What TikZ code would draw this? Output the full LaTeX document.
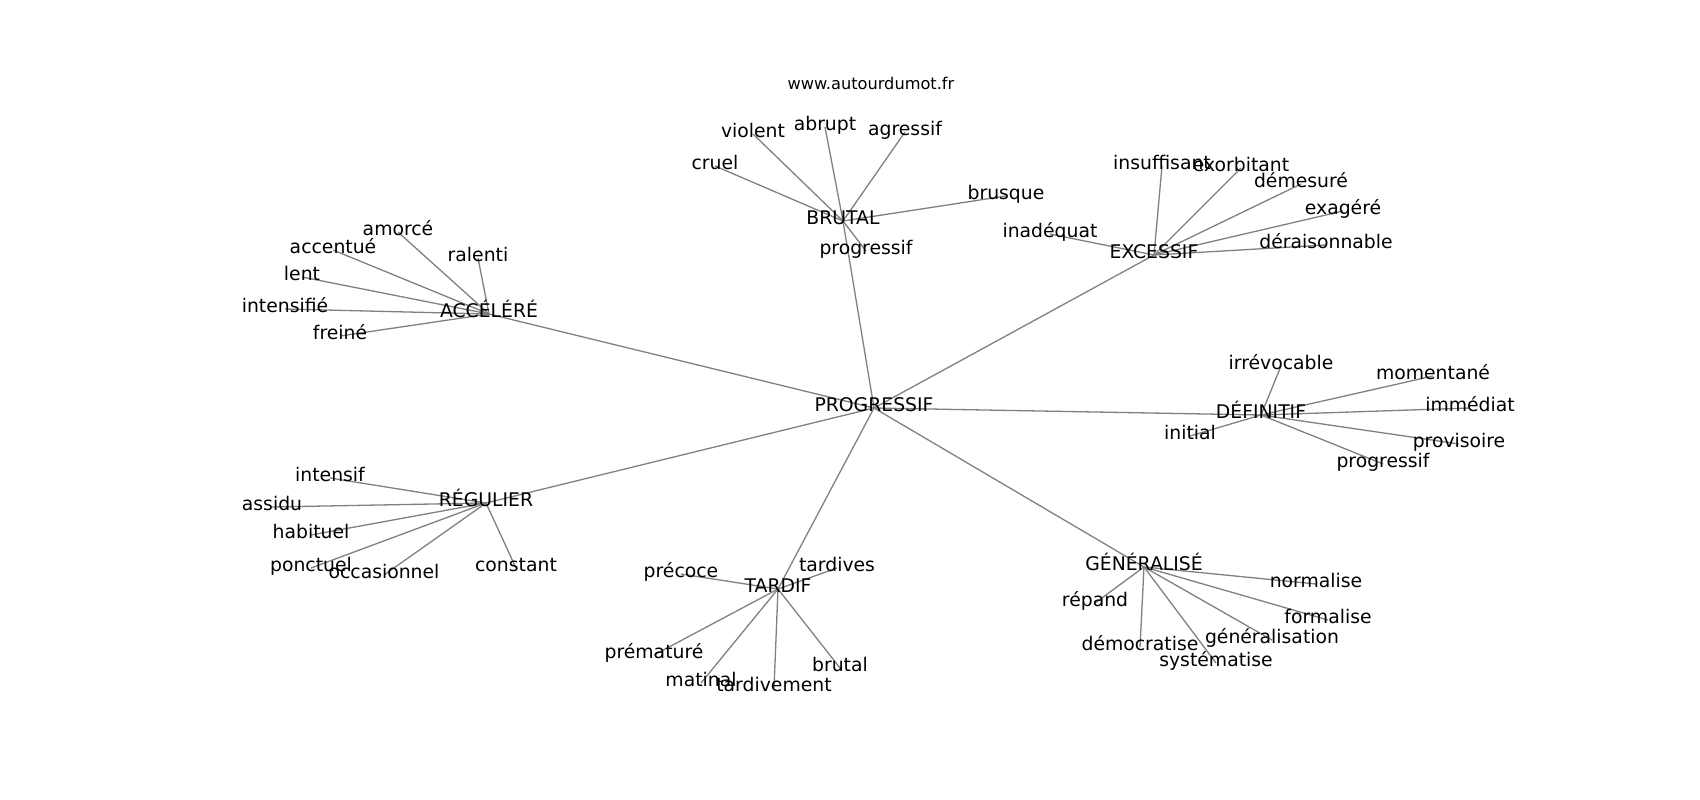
\documentclass[tikz,border=0pt]{standalone}
\usepackage{fontspec}
\setmainfont{DejaVu Sans}
\usetikzlibrary{backgrounds}

\begin{document}
\begin{tikzpicture}[
  x=1pt, y=-1pt,
  word/.style = {inner sep=0pt, yshift=-4pt, text height=0.73em, text depth=0pt, font=\fontsize{18.8}{22}\selectfont},
  link/.style = {draw=black!50, line width=1.3pt}
  ]
  \useasboundingbox (0,0) rectangle (1700,800);

  \node[inner sep=0pt, yshift=-3pt, text height=0.73em, text depth=0pt, font=\fontsize{16.2}{19}\selectfont] (site) at (871,83) {www.autourdumot.fr};

  % hubs
  \node[word] (hprog)   at (874,404)  {PROGRESSIF};
  \node[word] (hbrutal) at (843,217)  {BRUTAL};
  \node[word] (hexces)  at (1154,251) {EXCESSIF};
  \node[word] (haccel)  at (489,310)  {ACCÉLÉRÉ};
  \node[word] (hdefin)  at (1261,411) {DÉFINITIF};
  \node[word] (hregul)  at (486,499)  {RÉGULIER};
  \node[word] (htardif) at (778,585)  {TARDIF};
  \node[word] (hgener)  at (1144,563) {GÉNÉRALISÉ};

  % BRUTAL
  \node[word] (violent)  at (753,130)  {violent};
  \node[word] (abrupt)   at (825,123)  {abrupt};
  \node[word] (agressif) at (905,128)  {agressif};
  \node[word] (cruel)    at (715,162)  {cruel};
  \node[word] (brusque)  at (1006,192) {brusque};
  \node[word] (progb)    at (866,247)  {progressif};

  % EXCESSIF
  \node[word] (insuff)  at (1162,162) {insuffisant};
  \node[word] (exorb)   at (1241,164) {exorbitant};
  \node[word] (demes)   at (1301,180) {démesuré};
  \node[word] (exag)    at (1343,207) {exagéré};
  \node[word] (derais)  at (1326,241) {déraisonnable};
  \node[word] (inadeq)  at (1050,230) {inadéquat};

  % ACCÉLÉRÉ
  \node[word] (amorce)   at (398,228) {amorcé};
  \node[word] (accentue) at (333,246) {accentué};
  \node[word] (ralenti)  at (478,254) {ralenti};
  \node[word] (lent)     at (302,273) {lent};
  \node[word] (intensi)  at (285,305) {intensifié};
  \node[word] (freine)   at (340,332) {freiné};

  % DÉFINITIF
  \node[word] (irrevoc)  at (1281,362) {irrévocable};
  \node[word] (momen)    at (1433,372) {momentané};
  \node[word] (immed)    at (1470,404) {immédiat};
  \node[word] (provis)   at (1459,440) {provisoire};
  \node[word] (progd)    at (1383,460) {progressif};
  \node[word] (initial)  at (1190,432) {initial};

  % RÉGULIER
  \node[word] (intensif) at (330,474) {intensif};
  \node[word] (assidu)   at (272,503) {assidu};
  \node[word] (habituel) at (311,531) {habituel};
  \node[word] (ponctuel) at (311,564) {ponctuel};
  \node[word] (occas)    at (384,571) {occasionnel};
  \node[word] (constant) at (516,564) {constant};

  % TARDIF
  \node[word] (precoce)  at (681,570) {précoce};
  \node[word] (tardives) at (837,564) {tardives};
  \node[word] (premat)   at (654,651) {prématuré};
  \node[word] (matinal)  at (701,679) {matinal};
  \node[word] (tardiv)   at (774,684) {tardivement};
  \node[word] (brutalt)  at (840,664) {brutal};

  % GÉNÉRALISÉ
  \node[word] (repand)   at (1095,599) {répand};
  \node[word] (normal)   at (1316,580) {normalise};
  \node[word] (formal)   at (1328,616) {formalise};
  \node[word] (general)  at (1272,636) {généralisation};
  \node[word] (democ)    at (1140,643) {démocratise};
  \node[word] (system)   at (1216,659) {systématise};

  \begin{scope}[on background layer]
    \foreach \h in {hbrutal,hexces,haccel,hdefin,hregul,htardif,hgener}
      \draw[link] (hprog.center) -- (\h.center);
    \foreach \w in {violent,abrupt,agressif,cruel,brusque,progb}
      \draw[link] (hbrutal.center) -- (\w.center);
    \foreach \w in {insuff,exorb,demes,exag,derais,inadeq}
      \draw[link] (hexces.center) -- (\w.center);
    \foreach \w in {amorce,accentue,ralenti,lent,intensi,freine}
      \draw[link] (haccel.center) -- (\w.center);
    \foreach \w in {irrevoc,momen,immed,provis,progd,initial}
      \draw[link] (hdefin.center) -- (\w.center);
    \foreach \w in {intensif,assidu,habituel,ponctuel,occas,constant}
      \draw[link] (hregul.center) -- (\w.center);
    \foreach \w in {precoce,tardives,premat,matinal,tardiv,brutalt}
      \draw[link] (htardif.center) -- (\w.center);
    \foreach \w in {repand,normal,formal,general,democ,system}
      \draw[link] (hgener.center) -- (\w.center);
  \end{scope}
\end{tikzpicture}
\end{document}
